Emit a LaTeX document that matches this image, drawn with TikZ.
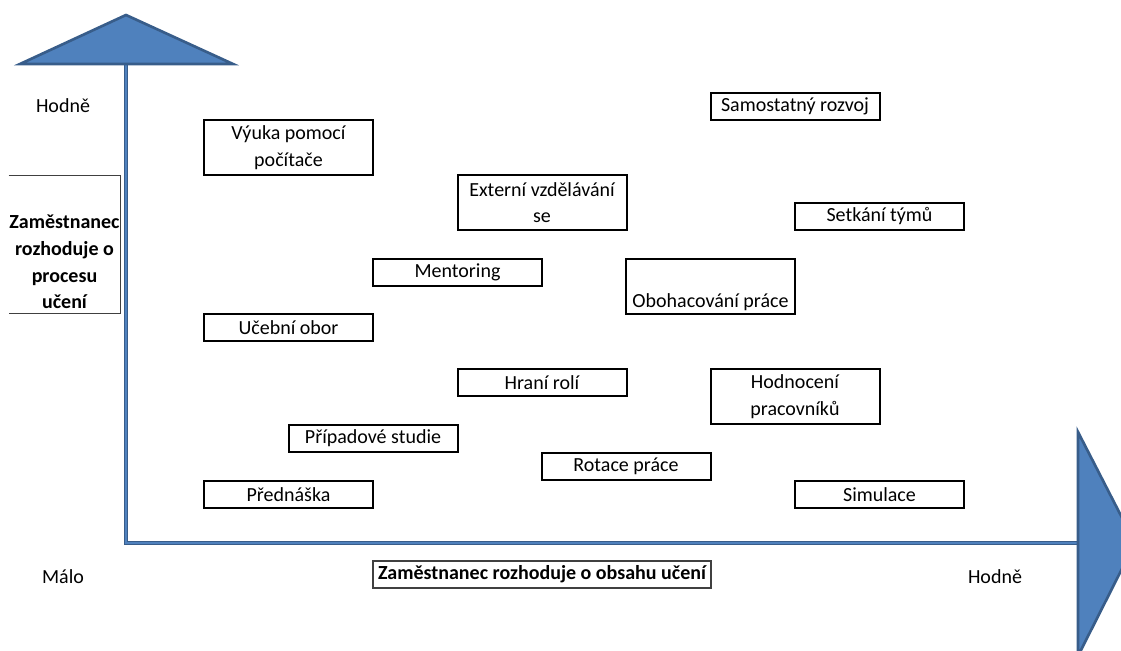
\documentclass[tikz,border=0pt]{standalone}
\usepackage{fontspec}
\setmainfont{Carlito}
\definecolor{osamodra}{HTML}{4F81BD}
\definecolor{osaokraj}{HTML}{385D8A}
\newcommand{\osy}
{
	\coordinate (vrchol) at (126,65);
	\coordinate (pocatek) at (126,543);
	\coordinate (konec) at (1077,543);
	\draw [osaokraj,line width=3.5pt] (vrchol) -- (pocatek) -- (konec);
	\draw [osamodra,line width=1.2pt] (vrchol) -- (pocatek) -- (konec);
	\filldraw [fill=osamodra,draw=osaokraj,line width=2pt] (20,64) -- (126,15) -- (233,64) -- cycle;
	\filldraw [fill=osamodra,draw=osaokraj,line width=2pt] (1078,432) -- (1135,543) -- (1078,656) -- cycle;
}

\begin{document}
\begin{tikzpicture}[x=0.75pt,y=-0.75pt,
	pismo/.style={font=\fontsize{15}{20}\selectfont},
	krabice/.style={pismo,draw=black,line width=1.5pt,minimum width=126.75pt,minimum height=20.25pt,inner sep=0pt,align=center},
	vysoka/.style={krabice,minimum height=41.25pt},
	tenka/.style={draw=black!75,line width=0.8pt}]
	\clip (0,0) rectangle (1121,650);
	\osy
	% popisky os
	\node[pismo] (hodnehore) at (63,106) {Hodně};
	\node[pismo] (malo) at (63,577) {Málo};
	\node[pismo] (hodnevpravo) at (995,577) {Hodně};
	\path node[minimum width=83.25pt,minimum height=103.5pt] (procesram) at (64.5,244.5) {};
	\draw [tenka] (procesram.north west) -- (procesram.north east) -- (procesram.south east) -- (procesram.south west);
	\node[pismo,font=\fontsize{15}{20}\selectfont\bfseries,align=center] (proces) at (64.5,262) {Zaměstnanec\\rozhoduje o\\procesu\\učení};
	\node[pismo,font=\fontsize{15}{20}\selectfont\bfseries,tenka,minimum width=253.5pt,minimum height=20.25pt,inner sep=0pt] (obsah) at (542,574.5) {Zaměstnanec rozhoduje o obsahu učení};
	% metody
	\node[vysoka] (vyuka) at (288.5,147.5) {Výuka pomocí\\počítače};
	\node[krabice] (samostatny) at (795,106.5) {Samostatný rozvoj};
	\node[vysoka] (externi) at (542,202.5) {Externí vzdělávání\\se};
	\node[krabice] (setkani) at (879.5,216) {Setkání týmů};
	\node[krabice] (mentoring) at (457.5,272.5) {Mentoring};
	\node[vysoka] (obohacovani) at (710.5,286) {\strut\\Obohacování práce};
	\node[krabice] (ucebni) at (288.5,327.5) {Učební obor};
	\node[krabice] (hrani) at (542,382.5) {Hraní rolí};
	\node[vysoka] (hodnoceni) at (795,396.5) {Hodnocení\\pracovníků};
	\node[krabice] (pripadove) at (373,438.5) {Případové studie};
	\node[krabice] (rotace) at (626,466.5) {Rotace práce};
	\node[krabice] (prednaska) at (288.5,494.5) {Přednáška};
	\node[krabice] (simulace) at (879.5,494.5) {Simulace};
\end{tikzpicture}
\end{document}
